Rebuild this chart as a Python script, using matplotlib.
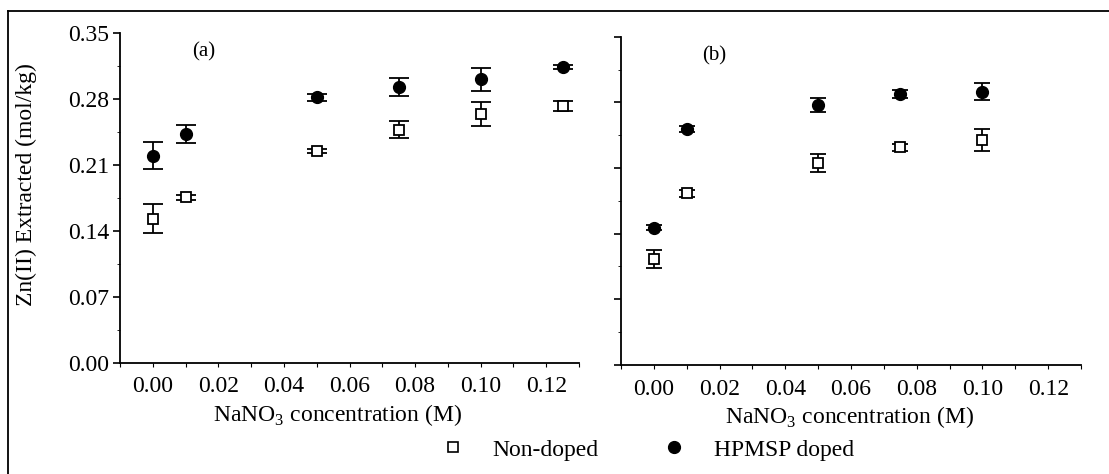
import numpy as np
import matplotlib.pyplot as plt
from matplotlib.lines import Line2D
from matplotlib.ticker import MultipleLocator

plt.rcParams['font.family'] = ['Liberation Serif', 'DejaVu Serif']
plt.rcParams['mathtext.fontset'] = 'custom'
plt.rcParams['mathtext.rm'] = 'Liberation Serif'

# (a)
x_a = [0.0, 0.01, 0.05, 0.075, 0.10, 0.125]
doped_a = [0.220, 0.243, 0.282, 0.293, 0.301, 0.3145]
doped_a_err = [0.0145, 0.0095, 0.0035, 0.0095, 0.012, 0.002]
non_a = [0.153, 0.1756, 0.225, 0.2475, 0.2645, 0.2727]
non_a_err = [0.0155, 0.003, 0.002, 0.009, 0.013, 0.0055]

# (b)
x_b = [0.0, 0.01, 0.05, 0.075, 0.10]
doped_b = [0.1464, 0.2513, 0.2772, 0.2889, 0.2914]
doped_b_err = [0.003, 0.003, 0.0075, 0.004, 0.0093]
non_b = [0.113, 0.183, 0.2157, 0.2321, 0.2399]
non_b_err = [0.0098, 0.004, 0.0096, 0.004, 0.0116]

xticks = [0.00, 0.02, 0.04, 0.06, 0.08, 0.10, 0.12]
yticks = [0.00, 0.07, 0.14, 0.21, 0.28, 0.35]

fig = plt.figure(figsize=(11.09, 4.74), dpi=100)
ax1 = fig.add_axes([0.1082, 0.2352, 0.4139, 0.6945])
ax2 = fig.add_axes([0.5600, 0.2300, 0.4148, 0.6926])


def draw(ax, x, d, de, n, ne, cap, tag, tagx):
    ax.errorbar(x, n, yerr=ne, fmt='s', ms=7.5, mfc='white', mec='black',
                mew=1.3, ecolor='black', elinewidth=1.3, capsize=cap,
                capthick=1.3, zorder=3)
    ax.errorbar(x, d, yerr=de, fmt='o', ms=8.5, mfc='black', mec='black',
                ecolor='black', elinewidth=1.3, capsize=cap, capthick=1.3,
                zorder=3)
    ax.set_xlim(-0.01, 0.13)
    ax.set_ylim(0, 0.35)
    ax.set_xticks(xticks)
    ax.xaxis.set_minor_locator(MultipleLocator(0.01))
    ax.set_yticks(yticks)
    ax.yaxis.set_minor_locator(MultipleLocator(0.035))
    ax.spines['top'].set_visible(False)
    ax.spines['right'].set_visible(False)
    for s in ['left', 'bottom']:
        ax.spines[s].set_linewidth(1.3)
    ax.tick_params(axis='x', which='both', direction='out', length=3,
                   width=0.8, labelsize=17, pad=7)
    ax.tick_params(axis='y', which='major', direction='out', length=5,
                   width=1.2, labelsize=17, pad=3)
    ax.tick_params(axis='y', which='minor', direction='out', length=2,
                   width=0.6)
    ax.set_xticklabels([f'{t:.2f}' for t in xticks])
    ax.set_xlabel('NaNO$_3$ concentration (M)', fontsize=17)
    ax.text(tagx, 0.943, tag, transform=ax.transAxes, fontsize=15,
            ha='center', va='center')


draw(ax1, x_a, doped_a, doped_a_err, non_a, non_a_err, 7.5, '(a)', 0.183)
draw(ax2, x_b, doped_b, doped_b_err, non_b, non_b_err, 5.5, '(b)', 0.202)

ax1.set_yticklabels([f'{t:.2f}' for t in yticks])
ax1.set_ylabel('Zn(II) Extracted (mol/kg)', fontsize=17)
ax1.yaxis.set_label_coords(-0.181, 0.54)
ax1.xaxis.set_label_coords(0.473, -0.12)
ax1.xaxis.label.set_va('top')
ax2.set_yticklabels([])
ax2.xaxis.set_label_coords(0.497, -0.12)
ax2.xaxis.label.set_va('top')

# outer frame (left and top)
fig.add_artist(Line2D([0.0075, 0.0075], [0.0, 0.977], color='black', lw=1.3))
fig.add_artist(Line2D([0.0075, 1.0], [0.977, 0.977], color='black', lw=1.3))

handles = [
    Line2D([], [], ls='none', marker='s', ms=7.5, mfc='white', mec='black', mew=1.2),
    Line2D([], [], ls='none', marker='o', ms=8.5, mfc='black', mec='black'),
]
fig.legend(handles, ['Non-doped', 'HPMSP doped'], loc='center',
           bbox_to_anchor=(0.584, 0.051), ncol=2, frameon=False, fontsize=17,
           handlelength=1.0, handletextpad=1.2, columnspacing=2.7)

fig.savefig('out.png', dpi=100)
